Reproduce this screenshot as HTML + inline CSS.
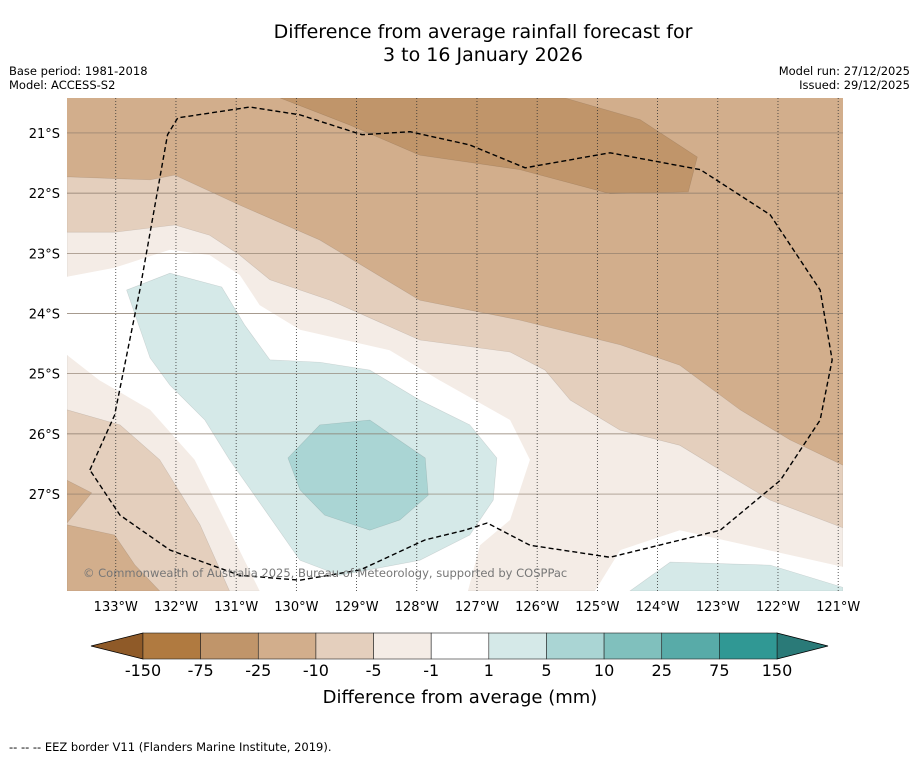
<!DOCTYPE html>
<html><head><meta charset="utf-8"><style>
body{margin:0;background:#fff;width:919px;height:758px;overflow:hidden;font-family:"DejaVu Sans","Liberation Sans",sans-serif}
svg{position:absolute;left:0;top:0}
</style></head><body>
<svg id="s" width="919" height="758">
<text x="483" y="38" font-size="19" text-anchor="middle">Difference from average rainfall forecast for</text>
<text x="483" y="61" font-size="19" text-anchor="middle">3 to 16 January 2026</text>
<text x="9" y="75" font-size="11.5">Base period: 1981-2018</text>
<text x="9" y="89" font-size="11.5">Model: ACCESS-S2</text>
<text x="910" y="75" font-size="11.5" text-anchor="end">Model run: 27/12/2025</text>
<text x="910" y="89" font-size="11.5" text-anchor="end">Issued: 29/12/2025</text>
<defs><clipPath id="mc"><rect x="67" y="98" width="776" height="493"/></clipPath></defs>
<g id="map" clip-path="url(#mc)"></g>
<g id="axes"></g>
<g id="cb"></g>
<text x="9" y="751" font-size="11.5">--  --  -- EEZ border V11 (Flanders Marine Institute, 2019).</text>
</svg>
<script>
const lonTicks=[133,132,131,130,129,128,127,126,125,124,123,122,121];
const latTicks=[21,22,23,24,25,26,27];
const cbLabels=["-150","-75","-25","-10","-5","-1","1","5","10","25","75","150"];
const cbColors=["#b07a40","#c0956a","#d2ae8c","#e4cfbd","#f4ece6","#ffffff","#d5e9e8","#aad5d4","#80c0bd","#58aba8","#309894"];
const lonMin=133.81,lonMax=120.92,latMin=20.42,latMax=28.61;
const polyDark=[[130.27,20.42],[125.54,20.42],[124.29,20.78],[123.34,21.40],[123.49,21.98],[124.79,22.01],[126.29,21.61],[127.95,21.37],[129.11,20.87]];
const polyM10=[[133.81,21.73],[132.43,21.78],[132.02,21.70],[130.94,22.20],[129.61,22.78],[127.95,23.78],[126.29,24.11],[124.62,24.52],[123.63,24.86],[122.63,25.60],[121.80,26.10],[120.92,26.52],[120.92,28.61],[133.81,28.61]];
const polyM5=[[133.81,22.65],[133.02,22.65],[132.02,22.53],[131.44,22.70],[130.94,23.03],[130.44,23.44],[129.44,23.78],[127.95,24.44],[126.45,24.64],[125.87,24.94],[125.45,25.44],[124.62,25.94],[123.63,26.19],[122.96,26.60],[122.13,27.10],[120.92,27.56],[120.92,28.61],[133.81,28.61]];
const polyLeftM10=[[133.81,25.60],[132.93,25.85],[132.27,26.43],[131.60,27.51],[131.11,28.61],[133.81,28.61]];
const polyLeftM25a=[[133.81,27.51],[133.02,27.68],[132.68,28.18],[132.27,28.61],[133.81,28.61]];
const polyLeftM25b=[[133.81,26.77],[133.40,26.98],[133.81,27.48]];
const polyWhite=[[133.81,23.39],[133.02,23.24],[132.10,22.94],[131.44,23.03],[130.94,23.36],[130.61,23.86],[129.94,24.27],[128.45,24.61],[127.62,25.11],[126.45,25.77],[126.12,26.43],[126.45,27.43],[126.95,27.85],[127.15,28.61],[130.61,28.61],[131.11,27.60],[131.69,26.43],[132.43,25.60],[133.27,25.11],[133.81,24.69]];
const polyWhiteR=[[125.04,28.61],[124.62,27.93],[123.63,27.60],[120.92,28.21],[120.92,28.61]];
const polyT1=[[132.82,23.61],[132.10,23.33],[131.24,23.56],[130.86,24.19],[130.44,24.77],[129.61,24.81],[128.78,24.94],[127.95,25.44],[127.12,25.85],[126.67,26.40],[126.73,27.10],[127.12,27.68],[127.95,28.10],[129.28,28.35],[129.94,28.10],[130.52,27.27],[131.11,26.43],[131.52,25.77],[132.10,25.19],[132.43,24.74]];
const polyT1R=[[124.46,28.61],[123.79,28.13],[122.13,28.18],[120.92,28.55],[120.92,28.61]];
const polyT5=[[130.14,26.40],[129.61,25.85],[128.78,25.77],[127.86,26.40],[127.81,27.02],[128.28,27.43],[128.78,27.60],[129.53,27.35],[129.94,26.93]];
const eez=[[133.43,26.60],[133.02,25.69],[132.60,23.61],[132.14,21.03],[131.97,20.75],[130.77,20.57],[129.94,20.70],[128.91,21.03],[128.11,20.98],[127.12,21.20],[126.20,21.58],[124.79,21.33],[123.29,21.61],[122.13,22.36],[121.30,23.61],[121.10,24.77],[121.30,25.77],[121.96,26.77],[122.96,27.60],[124.79,28.05],[126.12,27.85],[126.83,27.48],[127.20,27.60],[127.86,27.76],[128.94,28.26],[129.94,28.43],[130.94,28.35],[132.10,27.93],[132.93,27.35],[133.43,26.60]];
const X=l=>67+(lonMin-l)/(lonMin-lonMax)*776;
const Y=l=>98+(l-latMin)/(latMax-latMin)*493;
const NS="http://www.w3.org/2000/svg";
function mk(t,a,p){const e=document.createElementNS(NS,t);for(const k in a)e.setAttribute(k,a[k]);p.appendChild(e);return e;}
const map=document.getElementById('map');
const bg=mk('rect',{x:67,y:98,width:776,height:493,fill:cbColors[2]},map);


function poly(pts,fill,name){const e=mk('polygon',{points:pts.map(p=>X(p[0])+','+Y(p[1])).join(' '),fill:fill,stroke:fill==="#ffffff"?"none":"rgba(0,0,0,0.12)","stroke-width":0.6},map);

}
poly(polyDark,cbColors[1],'contour-minus-75-to-25');
poly(polyM10,cbColors[3],'contour-minus-10-to-5');
poly(polyM5,cbColors[4],'contour-minus-5-to-1');
poly(polyLeftM10,cbColors[3],'contour-left-minus-10-to-5');
poly(polyLeftM25a,cbColors[2],'contour-left-minus-25-a');
poly(polyLeftM25b,cbColors[2],'contour-left-minus-25-b');
poly(polyWhite,cbColors[5],'contour-near-zero');
poly(polyWhiteR,cbColors[5],'contour-near-zero-right');
poly(polyT1,cbColors[6],'contour-1-to-5');
poly(polyT1R,cbColors[6],'contour-1-to-5-right');
poly(polyT5,cbColors[7],'contour-5-to-10');
latTicks.forEach(l=>{const e=mk('line',{x1:67,x2:843,y1:Y(l),y2:Y(l),stroke:"#8a7a6a","stroke-width":0.7},map);

});
lonTicks.forEach(l=>{const e=mk('line',{x1:X(l),x2:X(l),y1:98,y2:591,stroke:"#333","stroke-width":0.8,"stroke-dasharray":"1 2"},map);

});
const ez=mk('polyline',{points:eez.map(p=>X(p[0])+','+Y(p[1])).join(' '),fill:"none",stroke:"#000","stroke-width":1.4,"stroke-dasharray":"5 3","stroke-linejoin":"round"},map);


const cp=mk('text',{x:83,y:577,"font-size":11.5,fill:"#777"},map);cp.textContent="© Commonwealth of Australia 2025, Bureau of Meteorology, supported by COSPPac";


const ax=document.getElementById('axes');
lonTicks.forEach(l=>{const t=mk('text',{x:X(l),y:611,"font-size":13,"text-anchor":"middle"},ax);t.textContent=l+"°W";

});
latTicks.forEach(l=>{const t=mk('text',{x:60,y:Y(l)+5,"font-size":13,"text-anchor":"end"},ax);t.textContent=l+"°S";

});
const cb=document.getElementById('cb');
const x0=143,x1=777,w=(x1-x0)/cbColors.length,yt=633,yb=659;
const lt=mk('polygon',{points:`${x0},${yt} ${x0},${yb} 91,${(yt+yb)/2}`,fill:"#8f5a28",stroke:"#000","stroke-width":0.8},cb);


const rt=mk('polygon',{points:`${x1},${yt} ${x1},${yb} 828,${(yt+yb)/2}`,fill:"#2a7a78",stroke:"#000","stroke-width":0.8},cb);


cbColors.forEach((c,i)=>{const r=mk('rect',{x:x0+i*w,y:yt,width:w,height:yb-yt,fill:c,stroke:"#222","stroke-width":0.6},cb);

});
cbLabels.forEach((s,i)=>{const t=mk('text',{x:x0+i*w,y:676,"font-size":16,"text-anchor":"middle"},cb);t.textContent=s;

});
const ct=mk('text',{x:460,y:703,"font-size":18,"text-anchor":"middle"},cb);ct.textContent="Difference from average (mm)";


</script>
</body></html>
